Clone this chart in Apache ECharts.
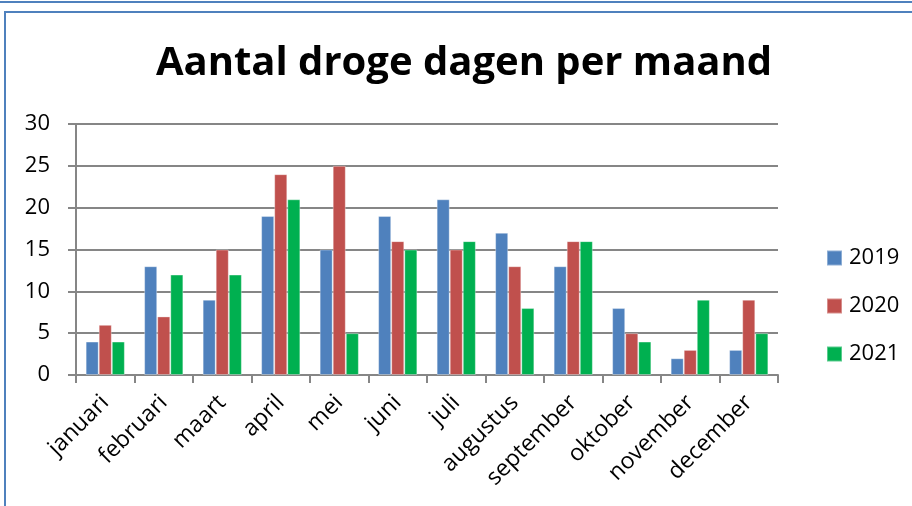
<!DOCTYPE html>
<html>
<head>
<meta charset="utf-8">
<script src="https://cdn.jsdelivr.net/npm/echarts@6/dist/echarts.min.js"></script>
<style>
  html, body { margin: 0; padding: 0; background: #fff; }
  #chart { width: 912px; height: 506px; }
</style>
</head>
<body>
<div id="chart"></div>
<script>
// Aantal droge dagen per maand
var months = ['januari', 'februari', 'maart', 'april', 'mei', 'juni', 'juli',
  'augustus', 'september', 'oktober', 'november', 'december'];
var y2019 = [4, 13, 9, 19, 15, 19, 21, 17, 13, 8, 2, 3];
var y2020 = [6, 7, 15, 24, 25, 16, 15, 13, 16, 5, 3, 9];
var y2021 = [4, 12, 12, 21, 5, 15, 16, 8, 16, 4, 9, 5];

var myChart = echarts.init(document.getElementById('chart'));
var font = '"Open Sans", sans-serif';

function bar(name, data) {
  return {
    name: name,
    type: 'bar',
    data: data,
    barGap: '0%',
    barCategoryGap: '33%',
    itemStyle: { borderColor: 'rgba(255,255,255,0.35)', borderWidth: 1 }
  };
}

var option = {
  color: ['#4F81BD', '#C0504D', '#00B050'],
  textStyle: { fontFamily: font },
  animation: false,
  graphic: [
    { type: 'line', shape: { x1: 0, y1: 2, x2: 912, y2: 2 },
      style: { stroke: '#4F81BD', lineWidth: 2 } },
    { type: 'rect', shape: { x: 5, y: 12, width: 960, height: 560 },
      style: { fill: null, stroke: '#4F81BD', lineWidth: 2 } }
  ],
  title: {
    text: 'Aantal droge dagen per maand',
    left: 459,
    top: 39,
    textAlign: 'center',
    textStyle: { fontFamily: font, fontWeight: 'bold', fontSize: 40, color: '#000' }
  },
  legend: {
    orient: 'vertical',
    left: 821,
    top: 242,
    itemWidth: 15,
    itemHeight: 15,
    itemGap: 26,
    icon: 'rect',
    textStyle: { fontFamily: font, fontSize: 22, color: '#000', padding: [0, 0, 0, 2] },
    data: ['2019', '2020', '2021']
  },
  grid: { left: 76, right: 134, top: 124, bottom: 131 },
  xAxis: {
    type: 'category',
    data: months,
    axisLine: { lineStyle: { color: '#868686', width: 2 } },
    axisTick: { show: true, length: 8, lineStyle: { color: '#868686', width: 2 } },
    axisLabel: { rotate: 45, interval: 0, margin: 24, fontFamily: font, fontSize: 23, color: '#000' }
  },
  yAxis: {
    type: 'value',
    min: 0,
    max: 30,
    interval: 5,
    axisLine: { show: true, lineStyle: { color: '#868686', width: 2 } },
    axisTick: { show: true, length: 8, lineStyle: { color: '#868686', width: 2 } },
    splitLine: { lineStyle: { color: '#868686', width: 2 } },
    axisLabel: { fontFamily: font, fontSize: 22, color: '#000', margin: 26 }
  },
  series: [bar('2019', y2019), bar('2020', y2020), bar('2021', y2021)]
};

myChart.setOption(option);
</script>
</body>
</html>
